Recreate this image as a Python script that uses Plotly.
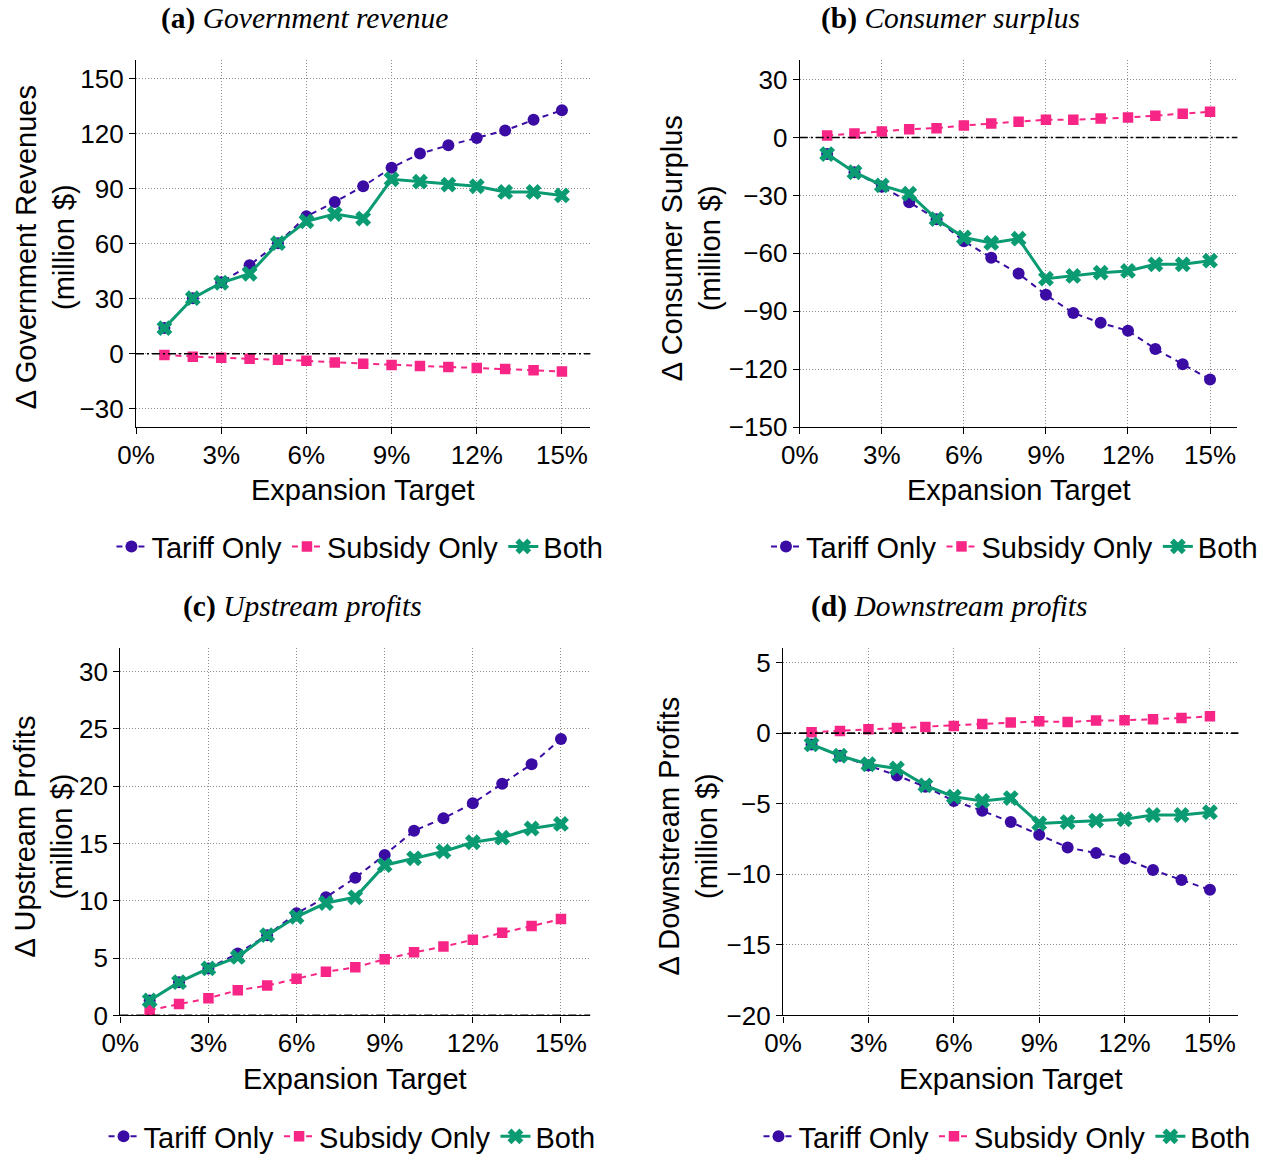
import plotly.graph_objects as go

# ---------------- data ----------------
targets = list(range(1, 16))  # expansion target (%)
series_names = ["Tariff Only", "Subsidy Only", "Both"]

gov_tariff = [14.0, 30.3, 39.0, 48.3, 60.3, 74.9, 82.7, 91.3, 101.4, 109.1, 113.6, 117.6, 121.7, 127.5, 132.7]
gov_subsidy = [-0.7, -1.6, -2.2, -2.7, -3.2, -3.8, -4.7, -5.4, -6.1, -6.7, -7.2, -7.7, -8.3, -9.0, -9.7]
gov_both = [14.0, 30.3, 38.7, 43.6, 60.3, 72.2, 76.2, 73.7, 95.1, 93.8, 92.2, 91.3, 88.2, 88.2, 86.3]

cs_tariff = [-8.6, -18.0, -25.5, -33.5, -42.3, -53.7, -62.3, -70.5, -81.5, -90.9, -96.0, -100.1, -109.5, -117.4, -125.3]
cs_subsidy = [1.0, 2.1, 3.1, 4.3, 4.8, 6.2, 7.2, 8.2, 9.2, 9.2, 9.8, 10.3, 11.3, 12.3, 13.3]
cs_both = [-8.6, -18.0, -24.8, -29.1, -42.3, -51.8, -54.6, -52.4, -73.1, -71.7, -70.0, -69.1, -65.7, -65.7, -63.8]

up_tariff = [1.3, 2.9, 4.1, 5.4, 7.0, 8.9, 10.3, 12.0, 14.0, 16.1, 17.2, 18.5, 20.2, 21.9, 24.1]
up_subsidy = [0.46, 1.0, 1.5, 2.2, 2.6, 3.2, 3.8, 4.2, 4.9, 5.5, 6.0, 6.6, 7.2, 7.8, 8.4]
up_both = [1.3, 2.9, 4.1, 5.1, 7.0, 8.6, 9.8, 10.3, 13.1, 13.7, 14.3, 15.1, 15.5, 16.3, 16.7]

down_tariff = [-0.8, -1.6, -2.3, -3.0, -3.8, -4.8, -5.5, -6.3, -7.2, -8.1, -8.5, -8.9, -9.7, -10.4, -11.1]
down_subsidy = [0.07, 0.16, 0.28, 0.37, 0.44, 0.51, 0.65, 0.75, 0.84, 0.79, 0.89, 0.91, 0.98, 1.07, 1.19]
down_both = [-0.8, -1.6, -2.2, -2.5, -3.7, -4.5, -4.8, -4.6, -6.4, -6.3, -6.2, -6.1, -5.8, -5.8, -5.6]

panel_titles = ["<b>(a)</b> <i>Government revenue</i>", "<b>(b)</b> <i>Consumer surplus</i>",
                "<b>(c)</b> <i>Upstream profits</i>", "<b>(d)</b> <i>Downstream profits</i>"]
y_titles = ["Δ Government Revenues<br>(million $)", "Δ Consumer Surplus<br>(million $)",
            "Δ Upstream Profits<br>(million $)", "Δ Downstream Profits<br>(million $)"]
x_title = "Expansion Target"
x_ticks = [0, 3, 6, 9, 12, 15]
x_ticktext = ["0%", "3%", "6%", "9%", "12%", "15%"]

panels = [
    (gov_tariff, gov_subsidy, gov_both),
    (cs_tariff, cs_subsidy, cs_both),
    (up_tariff, up_subsidy, up_both),
    (down_tariff, down_subsidy, down_both),
]
y_ranges = [[-40, 160], [-150, 40], [0, 32], [-20, 6]]
y_dticks = [30, 30, 5, 5]

# ---------------- layout geometry (pixels) ----------------
W, H = 1263, 1162
px_x = [(119, 581), (794, 1239), (103, 581), (777, 1240)]
px_y = [(61, 439), (61, 439), (667, 1045), (667, 1045)]
title_pos = [(290, 18), (947, 18), (288, 624), (946, 624)]
ytitle_pos = [(26, 254), (683, 255), (25, 861), (680, 860)]
xtitle_y = [504, 504, 1110, 1110]
legend_pos = [(94, 562), (760, 562), (86, 1170), (752, 1170)]

colors = ["#3A0CA3", "#F72585", "#0B9B73"]
SANS = "Liberation Sans, Arial, sans-serif"
SERIF = "Liberation Serif, Times New Roman, serif"

fig = go.Figure()
annotations = []
shapes = []
layout_axes = {}

for i, (ser, yr, dt) in enumerate(zip(panels, y_ranges, y_dticks)):
    n = "" if i == 0 else str(i + 1)
    xa, ya = "x" + n, "y" + n
    leg = "legend" + n
    tar, sub, both = ser
    fig.add_trace(go.Scatter(
        x=targets, y=tar, name=series_names[0], mode="lines+markers", xaxis=xa, yaxis=ya, legend=leg,
        line=dict(color=colors[0], width=2, dash="6px,5px"),
        marker=dict(symbol="circle", size=12, color=colors[0])))
    fig.add_trace(go.Scatter(
        x=targets, y=sub, name=series_names[1], mode="lines+markers", xaxis=xa, yaxis=ya, legend=leg,
        line=dict(color=colors[1], width=2, dash="6px,5px"),
        marker=dict(symbol="square", size=10.5, color=colors[1])))
    fig.add_trace(go.Scatter(
        x=targets, y=both, name=series_names[2], mode="lines+markers", xaxis=xa, yaxis=ya, legend=leg,
        line=dict(color=colors[2], width=3),
        marker=dict(symbol="x", size=14, color=colors[2])))

    x0, x1 = px_x[i]
    yt, yb = px_y[i]
    common = dict(showline=True, linecolor="black", linewidth=1.3, ticks="outside", ticklen=6,
                  tickwidth=1.3, tickcolor="black", showgrid=True, gridcolor="#8c8c8c",
                  griddash="1px,2px", gridwidth=1, zeroline=False, mirror=False,
                  tickfont=dict(family=SANS, size=26, color="black"))
    layout_axes["xaxis" + n] = dict(
        domain=[x0 / W, x1 / W], anchor=ya, range=[0, 16], tickvals=x_ticks, ticktext=x_ticktext,
        ticklabelstandoff=-2, **common)
    layout_axes["yaxis" + n] = dict(
        domain=[1 - yb / H, 1 - yt / H], anchor=xa, range=yr, dtick=dt, tick0=0, **common)

    # zero reference line
    shapes.append(dict(type="line", xref=xa + " domain", yref=ya, x0=0, x1=1, y0=0, y1=0,
                       line=dict(color="black", width=1.6, dash="8px,3px,2px,3px"), layer="above"))

    tx, ty = title_pos[i]
    annotations.append(dict(text=panel_titles[i], x=tx / W, y=1 - ty / H, xref="paper", yref="paper",
                            xanchor="center", yanchor="middle", showarrow=False,
                            font=dict(family=SERIF, size=29.5, color="black")))
    yx, yy = ytitle_pos[i]
    annotations.append(dict(text=y_titles[i], x=yx / W, y=1 - yy / H, xref="paper", yref="paper",
                            xanchor="center", yanchor="middle", textangle=-90, showarrow=False,
                            font=dict(family=SANS, size=29, color="black")))
    annotations.append(dict(text=x_title, x=(x0 + x1) / 2 / W, y=1 - xtitle_y[i] / H, xref="paper",
                            yref="paper", xanchor="center", yanchor="middle", showarrow=False,
                            font=dict(family=SANS, size=29, color="black")))
    lx, ly = legend_pos[i]
    layout_axes[leg] = dict(orientation="h", x=lx / W, y=1 - ly / H, xanchor="left", yanchor="middle",
                            bgcolor="rgba(0,0,0,0)", font=dict(family=SANS, size=29, color="black"),
                            itemwidth=30, traceorder="normal")

fig.update_layout(
    width=W, height=H, autosize=False,
    margin=dict(l=0, r=0, t=0, b=0),
    paper_bgcolor="white", plot_bgcolor="white",
    font=dict(family=SANS, color="black"),
    annotations=annotations, shapes=shapes, showlegend=True,
    **layout_axes,
)

fig.write_html("out.html", config={"displayModeBar": False},
               post_script="document.body.style.margin='0';")
